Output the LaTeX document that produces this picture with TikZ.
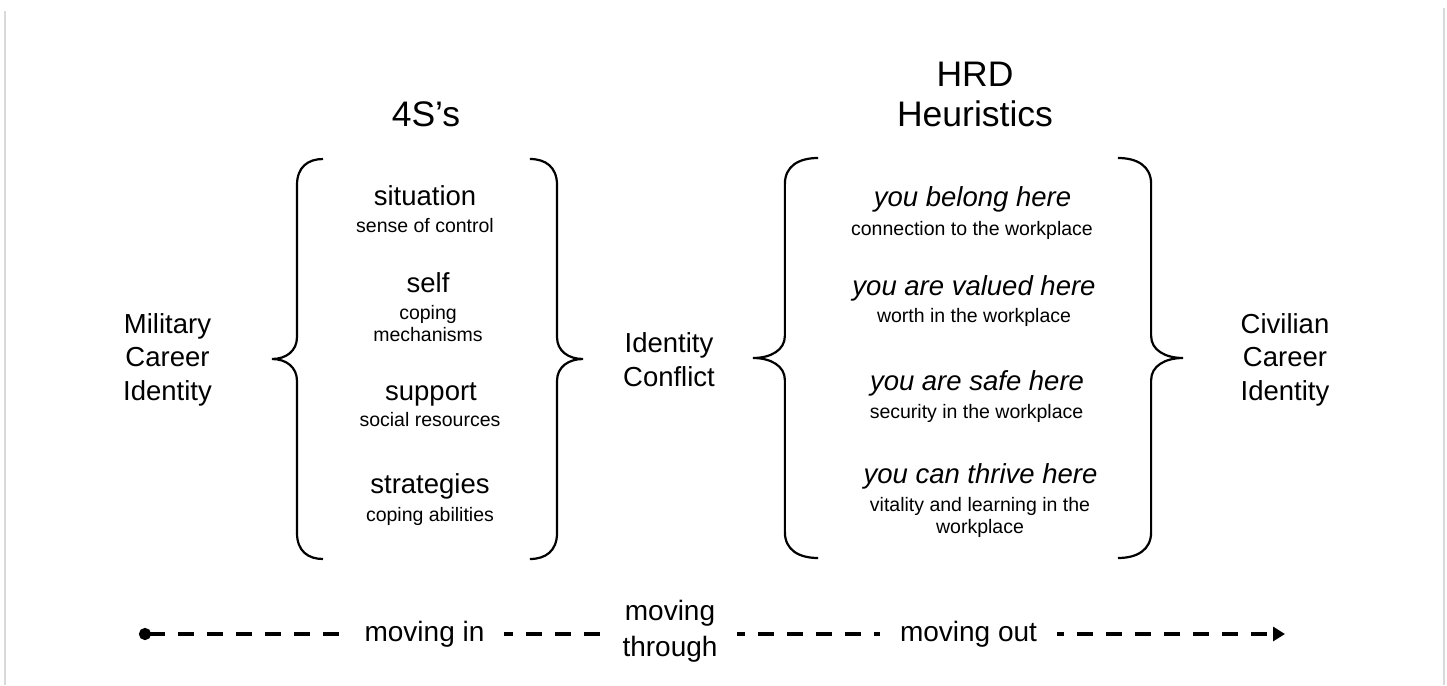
\documentclass[tikz,border=0pt]{standalone}
\usepackage{fontspec}
\setmainfont{Liberation Sans}
\usetikzlibrary{arrows.meta,positioning}

\begin{document}
\begin{tikzpicture}[
    x=1pt, y=-1pt,
    head/.style={font=\fontsize{35.5}{40}\selectfont, align=center, anchor=base, inner sep=0pt},
    side/.style={font=\fontsize{27.5}{33.3}\selectfont, align=center, anchor=base, inner sep=0pt},
    sname/.style={font=\fontsize{27.5}{33}\selectfont, anchor=base, inner sep=0pt},
    hname/.style={sname, font=\fontsize{27.5}{33}\selectfont\itshape},
    sdesc/.style={font=\fontsize{19.5}{21.9}\selectfont, align=center, anchor=base, inner sep=0pt},
    phase/.style={font=\fontsize{28}{36}\selectfont, align=center, anchor=base, fill=white, inner xsep=20pt, inner ysep=4pt},
    flow/.style={line width=4pt, dash pattern=on 16pt off 13pt, {Circle[length=12pt]}-{Triangle[length=12pt,width=14pt]}},
    edge/.style={draw=black!15, line width=2pt},
    curly/.pic={
        \draw[line width=2.2pt] (51,-200) .. controls (36,-200) and (25,-192) .. (25,-174)
            -- (25,-22) .. controls (25,-8) and (14,0) .. (0,0)
            .. controls (14,0) and (25,8) .. (25,22)
            -- (25,174) .. controls (25,192) and (36,200) .. (51,200);
    },
]
\useasboundingbox (0,0) rectangle (1447,685);
\draw[edge] (5,11) -- (5,685);
\draw[edge] (1444,8) -- (1444,685);

\node[head] (fours) at (426,126.7) {4S’s};
\node[head] (hrd) at (975,126.7) {HRD\\Heuristics};

\node[side] (military) at (167.5,400) {Military\\Career\\Identity};
\node[side] (conflict) at (669,386) {Identity\\Conflict};
\node[side] (civilian) at (1285,400) {Civilian\\Career\\Identity};

\pic at (272,359) {curly};
\pic[xscale=-1.04] at (583,359) {curly};
\pic[xscale=1.275] at (753,358) {curly};
\pic[xscale=-1.275] at (1183,358) {curly};

\node[sname] (situation) at (425,205) {situation};
\node[sdesc] (control) at (425,232) {sense of control};
\node[sname] (self) at (428,292) {self};
\node[sdesc] (mechanisms) at (428,341.7) {coping\\mechanisms};
\node[sname] (support) at (431,400) {support};
\node[sdesc] (resources) at (430,426.7) {social resources};
\node[sname] (strategies) at (430,493.3) {strategies};
\node[sdesc] (abilities) at (430,521.7) {coping abilities};

\node[hname] (belong) at (972.5,206.7) {you belong here};
\node[sdesc] (connection) at (972,235) {connection to the workplace};
\node[hname] (valued) at (974,295) {you are valued here};
\node[sdesc] (worth) at (974,322.7) {worth in the workplace};
\node[hname] (safe) at (977,390) {you are safe here};
\node[sdesc] (security) at (976.5,418.3) {security in the workplace};
\node[hname] (thrive) at (980.5,483.3) {you can thrive here};
\node[sdesc] (vitality) at (980,533.3) {vitality and learning in the\\workplace};

\coordinate (start) at (139,634);
\coordinate (finish) at (1285,634);
\draw[flow] (start) -- (finish);
\node[phase] (movein) at (424.5,641) {moving in};
\node[phase] (through) at (670,656) {moving\\through};
\node[phase] (moveout) at (968.5,641) {moving out};
\end{tikzpicture}
\end{document}
